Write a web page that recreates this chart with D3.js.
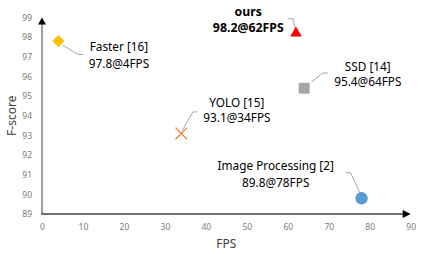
<!DOCTYPE html>
<html>
<head>
<meta charset="utf-8">
<script src="https://cdn.jsdelivr.net/npm/d3@7"></script>
<style>
  body { margin: 0; background: #fff; }
  svg { display: block; font-family: "Noto Sans", sans-serif; }
</style>
</head>
<body>
<div id="chart"></div>
<script>
var width = 436,
    height = 254;

// data
var methods = ["Faster [16]", "YOLO [15]", "ours", "SSD [14]", "Image Processing [2]"];
var fps     = [4, 34, 62, 64, 78];
var fscore  = [97.8, 93.1, 98.2, 95.4, 89.8];
var shapes  = ["diamond", "cross", "triangle", "square", "circle"];
var colors  = ["#FFC000", "#ED7D31", "#FF0000", "#A5A5A5", "#5B9BD5"];
var xTicks  = [0, 10, 20, 30, 40, 50, 60, 70, 80, 90];
var yTicks  = [89, 90, 91, 92, 93, 94, 95, 96, 97, 98, 99];

// callout layout, offsets from the marker in px
var callouts = [
  { leader: [[4.6, 4.4], [19.6, 13.4], [24.6, 13.4]], tx: 60.6, ty: [6, 22.5] },
  { leader: [[1, -3], [11.6, -21.5], [16, -21.5]], tx: 55.6, ty: [-30.2, -15.2] },
  { leader: [[-0.5, -3], [-2.9, -14.5], [-7.9, -14.5]], tx: -47.7, ty: [-21.8, -5.1] },
  { leader: [[7.3, -6.2], [18.6, -15.2], [23.6, -15.2]], tx: 63.6, ty: [-21.2, -6.2] },
  { leader: [[0, -2], [-11, -25.5], [-16, -25.5]], tx: -85.8, ty: [-32.5, -15.5] }
];

var points = methods.map(function(m, i) {
  return { name: m, x: fps[i], y: fscore[i], shape: shapes[i], color: colors[i], c: callouts[i] };
});

var x = d3.scaleLinear().domain([0, 90]).range([42, 410.7]);
var y = d3.scaleLinear().domain([89, 99]).range([214, 17.5]);

var svg = d3.select('#chart').append('svg')
  .attr('width', width)
  .attr('height', height);

svg.append('rect')
  .attr('width', width)
  .attr('height', height)
  .attr('fill', '#fff');

// axes
var xAxis = svg.append('g')
  .attr('transform', 'translate(0,' + y(89) + ')')
  .call(d3.axisBottom(x).tickValues(xTicks).tickSize(0).tickPadding(10));
var yAxis = svg.append('g')
  .attr('transform', 'translate(' + x(0) + ',0)')
  .call(d3.axisLeft(y).tickValues(yTicks).tickSize(0).tickPadding(10));

xAxis.select('.domain').remove();
yAxis.select('.domain').remove();
svg.selectAll('.tick text')
  .attr('fill', '#7a7a7a')
  .attr('font-size', '8.5px')
  .attr('font-family', '"Noto Sans", sans-serif');

// axis lines with arrows
svg.append('line')
  .attr('x1', x(0)).attr('y1', y(89))
  .attr('x2', x(0)).attr('y2', y(99) + 6)
  .attr('stroke', '#7f7f7f').attr('stroke-width', 1.5);
svg.append('path')
  .attr('d', 'M' + x(0) + ',' + y(99) + 'l-4,7l8,0z')
  .attr('fill', '#000');

svg.append('line')
  .attr('x1', x(0) - 0.75).attr('y1', y(89))
  .attr('x2', x(90) - 6).attr('y2', y(89))
  .attr('stroke', '#404040').attr('stroke-width', 1.5);
svg.append('path')
  .attr('d', 'M' + x(90) + ',' + y(89) + 'l-8,-4l0,8z')
  .attr('fill', '#000');

// axis titles
svg.append('text')
  .attr('x', (x(0) + x(90)) / 2)
  .attr('y', 248)
  .attr('text-anchor', 'middle')
  .attr('font-size', '12px')
  .attr('fill', '#404040')
  .text('FPS');
svg.append('text')
  .attr('transform', 'translate(16,' + ((y(89) + y(99)) / 2) + ') rotate(-90)')
  .attr('text-anchor', 'middle')
  .attr('font-size', '12px')
  .attr('fill', '#404040')
  .text('F-score');

// leaders
var g = svg.append('g');
g.selectAll('path.leader')
  .data(points).enter()
  .append('path')
  .attr('class', 'leader')
  .attr('fill', 'none')
  .attr('stroke', '#A6A6A6')
  .attr('stroke-width', 1)
  .attr('d', function(d) {
    var cx = x(d.x), cy = y(d.y);
    return d3.line()(d.c.leader.map(function(p) { return [cx + p[0], cy + p[1]]; }));
  });

// markers
var symbolTypes = {
  diamond: d3.symbolDiamond2,
  cross: d3.symbolTimes,
  triangle: d3.symbolTriangle2,
  square: d3.symbolSquare2,
  circle: d3.symbolCircle
};
var symbolSizes = { diamond: 95, cross: 90, triangle: 95, square: 150, circle: 120 };

g.selectAll('path.mark')
  .data(points).enter()
  .append('path')
  .attr('class', 'mark')
  .attr('transform', function(d) { return 'translate(' + x(d.x) + ',' + y(d.y) + ')'; })
  .attr('d', function(d) { return d3.symbol(symbolTypes[d.shape], symbolSizes[d.shape])(); })
  .attr('fill', function(d) { return d.shape === 'cross' ? 'none' : d.color; })
  .attr('stroke', function(d) { return d.shape === 'cross' ? d.color : 'none'; })
  .attr('stroke-width', 1.2);

// labels
var labels = g.selectAll('text.label')
  .data(points).enter()
  .append('text')
  .attr('class', 'label')
  .attr('text-anchor', 'middle')
  .attr('font-size', function(d) { return d.name === 'ours' ? '12.3px' : '11.8px'; })
  .attr('fill', '#000')
  .attr('font-weight', function(d) { return d.name === 'ours' ? 'bold' : 'normal'; });

labels.append('tspan')
  .attr('x', function(d) { return x(d.x) + d.c.tx; })
  .attr('y', function(d) { return y(d.y) + d.c.ty[0]; })
  .attr('dy', '0.35em')
  .text(function(d) { return d.name; });
labels.append('tspan')
  .attr('x', function(d) { return x(d.x) + d.c.tx; })
  .attr('y', function(d) { return y(d.y) + d.c.ty[1]; })
  .attr('dy', '0.35em')
  .text(function(d) { return d.y.toFixed(1) + '@' + d.x + 'FPS'; });
</script>
</body>
</html>
